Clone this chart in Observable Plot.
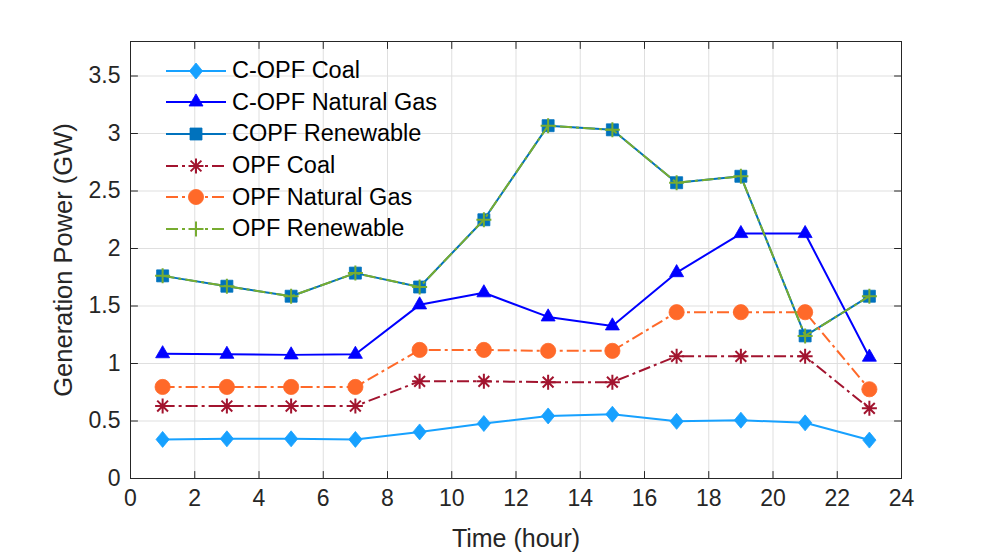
<!DOCTYPE html>
<html><head><meta charset="utf-8">
<script src="https://cdn.jsdelivr.net/npm/d3@7"></script>
<script src="https://cdn.jsdelivr.net/npm/@observablehq/plot@0.6"></script>
<style>
body{margin:0;background:#fff;}
#wrap{position:relative;width:997px;height:553px;font-family:"Liberation Sans",Arial,sans-serif;}
#legend{position:absolute;left:166px;top:55px;}
.row{display:flex;align-items:center;height:31.6px;}
.row svg{display:block;overflow:visible}
.row span{font-size:23.5px;color:#000;margin-left:6px;white-space:nowrap;font-family:"Liberation Sans",Arial,sans-serif;}
</style></head><body><div id="wrap"><div id="chart"></div><div id="legend"></div></div>
<script>
// ---- data ----
const hours = [1, 3, 5, 7, 9, 11, 13, 15, 17, 19, 21, 23];
const xTicks = [0, 2, 4, 6, 8, 10, 12, 14, 16, 18, 20, 22, 24];
const yTicks = [0, 0.5, 1, 1.5, 2, 2.5, 3, 3.5];
const seriesNames = ["C-OPF Coal", "C-OPF Natural Gas", "COPF Renewable", "OPF Coal", "OPF Natural Gas", "OPF Renewable"];
const copfCoal      = [0.34, 0.345, 0.345, 0.34, 0.405, 0.478, 0.544, 0.559, 0.497, 0.507, 0.484, 0.334];
const copfGas       = [1.085, 1.08, 1.075, 1.08, 1.51, 1.615, 1.405, 1.327, 1.79, 2.13, 2.13, 1.055];
const copfRenewable = [1.762, 1.672, 1.585, 1.786, 1.665, 2.25, 3.068, 3.032, 2.572, 2.628, 1.24, 1.585];
const opfCoal       = [0.63, 0.63, 0.63, 0.63, 0.845, 0.845, 0.838, 0.838, 1.062, 1.062, 1.062, 0.61];
const opfGas        = [0.796, 0.796, 0.796, 0.796, 1.118, 1.118, 1.11, 1.11, 1.446, 1.446, 1.446, 0.776];
const opfRenewable  = [1.762, 1.672, 1.585, 1.786, 1.665, 2.25, 3.068, 3.032, 2.572, 2.628, 1.24, 1.585];
const seriesValues = [copfCoal, copfGas, copfRenewable, opfCoal, opfGas, opfRenewable];

// ---- marker shapes ----
const diamond = {draw(c){c.moveTo(0,-8);c.lineTo(6.6,0);c.lineTo(0,8);c.lineTo(-6.6,0);c.closePath();}};
const triangle = {draw(c){const s=14,h=s*Math.sqrt(3)/2;c.moveTo(0,-2*h/3);c.lineTo(s/2,h/3);c.lineTo(-s/2,h/3);c.closePath();}};
const square = {draw(c){c.moveTo(-6,-6);c.lineTo(6,-6);c.lineTo(6,6);c.lineTo(-6,6);c.closePath();}};
const asterisk = {draw(c){const a=7.5,b=5.4;c.moveTo(0,-a);c.lineTo(0,a);c.moveTo(-a,0);c.lineTo(a,0);c.moveTo(-b,-b);c.lineTo(b,b);c.moveTo(-b,b);c.lineTo(b,-b);}};
const circle = {draw(c){c.moveTo(7.6,0);c.arc(0,0,7.6,0,2*Math.PI);c.closePath();}};
const plus = {draw(c){const a=7.5;c.moveTo(0,-a);c.lineTo(0,a);c.moveTo(-a,0);c.lineTo(a,0);}};
const tickShape = {draw(c, l){c.moveTo(0,0);c.lineTo(0,-l);}};

const DASHDOT = "12,4,3,4";
const seriesStyle = {
  "C-OPF Coal":        {color:"#17a1ff", dash:null,    symbol:diamond,  filled:true},
  "C-OPF Natural Gas": {color:"#0000ff", dash:null,    symbol:triangle, filled:true},
  "COPF Renewable":    {color:"#0072bd", dash:null,    symbol:square,   filled:true},
  "OPF Coal":          {color:"#a2142f", dash:DASHDOT, symbol:asterisk, filled:false},
  "OPF Natural Gas":   {color:"#ff6929", dash:DASHDOT, symbol:circle,   filled:true},
  "OPF Renewable":     {color:"#77ac30", dash:DASHDOT, symbol:plus,     filled:false}
};

const rows = seriesNames.flatMap((s, i) => hours.map((h, j) => ({series: s, hour: h, value: seriesValues[i][j]})));

const dataMarks = seriesNames.flatMap(s => {
  const st = seriesStyle[s];
  const d = rows.filter(r => r.series === s);
  return [
    Plot.line(d, {x: "hour", y: "value", stroke: st.color, strokeWidth: 2, strokeDasharray: st.dash || undefined, strokeLinecap: "butt", strokeLinejoin: "round"}),
    Plot.dot(d, {x: "hour", y: "value", symbol: st.symbol, r: 7, fill: st.filled ? st.color : "none", stroke: st.color, strokeWidth: st.filled ? 0.8 : 2})
  ];
});

const tickStyle = {length: 7, shape: tickShape, anchor: "start", stroke: "#262626", strokeWidth: 1};

const chart = Plot.plot({
  width: 997, height: 553,
  marginLeft: 130, marginRight: 96, marginTop: 41, marginBottom: 75,
  x: {domain: [0, 24]},
  y: {domain: [0, 3.8]},
  style: {fontFamily: '"Liberation Sans", Arial, sans-serif', color: "#262626", background: "white", overflow: "visible"},
  marks: [
    Plot.gridX(xTicks, {stroke: "#dfdfdf", strokeOpacity: 1, strokeWidth: 1}),
    Plot.gridY(yTicks, {stroke: "#dfdfdf", strokeOpacity: 1, strokeWidth: 1}),
    ...dataMarks,
    Plot.axisX(xTicks, {anchor: "bottom", tickSize: 0, tickPadding: 11, fontSize: 23, label: null, tickFormat: d => String(d)}),
    Plot.axisY(yTicks, {anchor: "left", tickSize: 0, tickPadding: 10, fontSize: 23, label: null, tickFormat: d => String(d)}),
    Plot.vector(xTicks, {x: d => d, frameAnchor: "bottom", rotate: 0, ...tickStyle}),
    Plot.vector(xTicks, {x: d => d, frameAnchor: "top", rotate: 180, ...tickStyle}),
    Plot.vector(yTicks, {y: d => d, frameAnchor: "left", rotate: 90, ...tickStyle}),
    Plot.vector(yTicks, {y: d => d, frameAnchor: "right", rotate: -90, ...tickStyle}),
    Plot.text(["Time (hour)"], {text: d => d, frameAnchor: "bottom", dy: 60, fontSize: 25, lineAnchor: "middle", textAnchor: "middle", fill: "#262626"}),
    Plot.text(["Generation Power (GW)"], {text: d => d, frameAnchor: "left", dx: -67, rotate: -90, fontSize: 25.5, lineAnchor: "middle", textAnchor: "middle", fill: "#262626"}),
    Plot.frame({stroke: "#262626", strokeWidth: 1})
  ]
});
document.getElementById("chart").appendChild(chart);

// ---- legend (overlay) ----
const legend = d3.select("#legend");
seriesNames.forEach(s => {
  const st = seriesStyle[s];
  const row = legend.append("div").attr("class", "row");
  const svg = row.append("svg").attr("width", 60).attr("height", 30);
  svg.append("line").attr("x1", 0).attr("x2", 60).attr("y1", 15).attr("y2", 15)
    .attr("stroke", st.color).attr("stroke-width", 2).attr("stroke-dasharray", st.dash).attr("stroke-linecap", "butt");
  const p = d3.path(); st.symbol.draw(p);
  svg.append("path").attr("d", p.toString()).attr("transform", "translate(30,15)")
    .attr("fill", st.filled ? st.color : "none").attr("stroke", st.color).attr("stroke-width", st.filled ? 0.8 : 2);
  row.append("span").text(s);
});
</script>
</body></html>
